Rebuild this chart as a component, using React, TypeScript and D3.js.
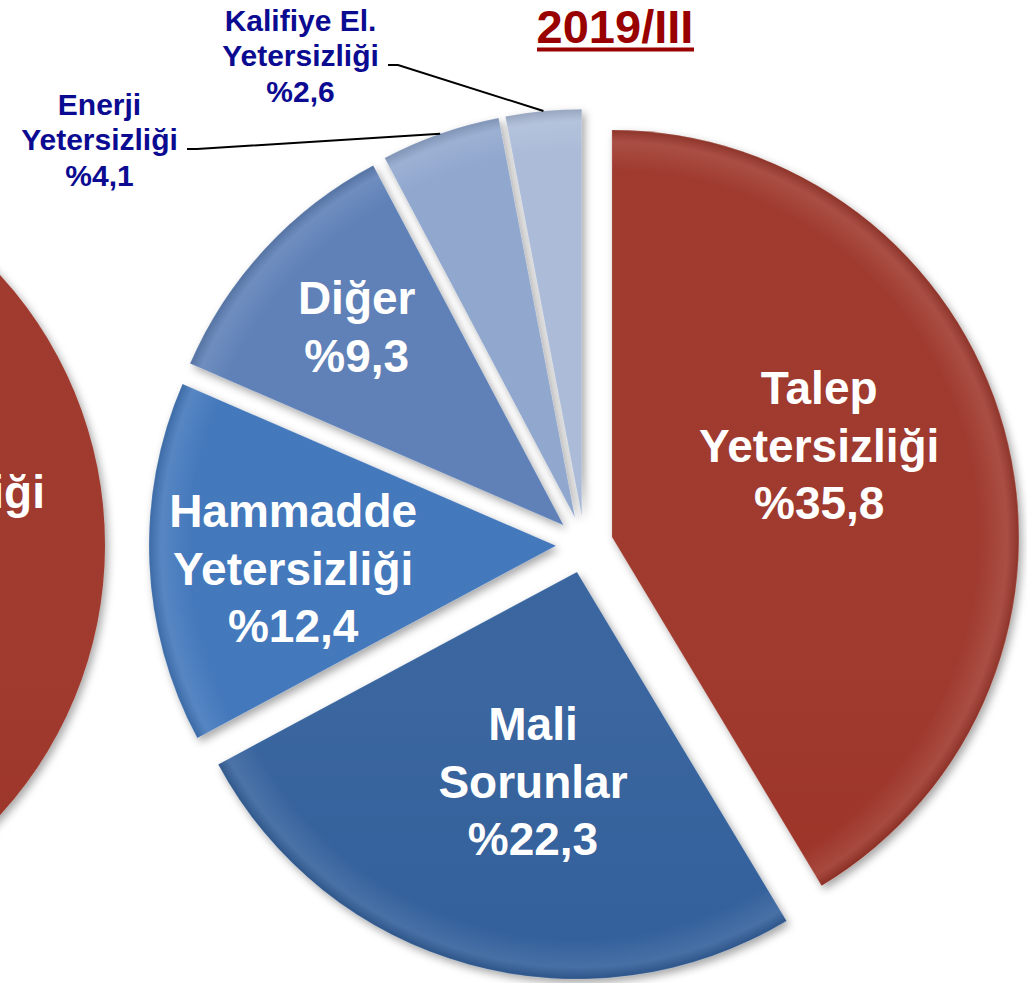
import React from "react";
import * as d3 from "d3";

// 2019/III – kapasite kullanımını kısıtlayan faktörler
const categories = [
  "Talep Yetersizliği",
  "Mali Sorunlar",
  "Hammadde Yetersizliği",
  "Diğer",
  "Enerji Yetersizliği",
  "Kalifiye El. Yetersizliği",
];
const labelLines = [
  ["Talep", "Yetersizliği"],
  ["Mali", "Sorunlar"],
  ["Hammadde", "Yetersizliği"],
  ["Diğer"],
  ["Enerji", "Yetersizliği"],
  ["Kalifiye El.", "Yetersizliği"],
];
const shares = [35.8, 22.3, 12.4, 9.3, 4.1, 2.6];
const colors = ["#9a2f22", "#2e5c99", "#3870b8", "#5479b3", "#8aa2cb", "#a7b8d6"];
const title = "2019/III";

// previous period pie, only its red slice shows at the left edge
const prevLabel = "Yetersizliği";

const W = 1027;
const H = 983;
const FONT = "'Liberation Sans', Arial, sans-serif";

const fmt = (v: number) => "%" + v.toFixed(1).replace(".", ",");

export default function App() {
  const cx = 584.5;
  const cy = 544.6;
  const R = 407;
  const explode = 28.5;

  const pie = d3
    .pie<number>()
    .sort(null)
    .value((d) => d)
    .startAngle(0)
    .endAngle(2 * Math.PI);
  const arcs = pie(shares);
  const arc = d3.arc<d3.PieArcDatum<number>>().innerRadius(0).outerRadius(R);

  // label placement inside the slices (angle shift in deg, radius)
  const inner: Record<number, [number, number]> = {
    0: [-8, 226],
    1: [-3.6, 215],
    2: [-2.8, 264],
    3: [0.9, 286],
  };
  // outside labels: point where the leader line starts
  const outer: Record<number, [number, number]> = {
    4: [187, 149],
    5: [388, 65],
  };

  const fs = 46;
  const lh = 57.5;

  const prevArc = d3
    .arc<any>()
    .innerRadius(0)
    .outerRadius(400)
    .startAngle(0)
    .endAngle(Math.PI);

  return (
    <div style={{ position: "absolute", left: 0, top: 0 }}>
      <svg width={W} height={H} viewBox={`0 0 ${W} ${H}`} style={{ display: "block", background: "#fff" }}>
        <defs>
          <filter id="shadow" x="-20%" y="-20%" width="140%" height="140%">
            <feDropShadow dx="3" dy="4" stdDeviation="4" floodColor="#000" floodOpacity="0.35" />
          </filter>
          <linearGradient id="shade" gradientUnits="userSpaceOnUse" x1="0" y1={cy - R} x2="0" y2={cy + R}>
            <stop offset="0" stopColor="#fff" stopOpacity="0.06" />
            <stop offset="0.5" stopColor="#fff" stopOpacity="0" />
            <stop offset="1" stopColor="#000" stopOpacity="0.14" />
          </linearGradient>
          <radialGradient id="bevel" gradientUnits="userSpaceOnUse" cx="0" cy="0" r={R}>
            <stop offset="0.9" stopColor="#fff" stopOpacity="0" />
            <stop offset="0.97" stopColor="#fff" stopOpacity="0.1" />
            <stop offset="1" stopColor="#000" stopOpacity="0.12" />
          </radialGradient>
        </defs>

        {/* left pie fragment */}
        <g transform={`translate(-295,545)`}>
          <path d={prevArc({}) || ""} fill={colors[0]} filter="url(#shadow)" />
          <path d={prevArc({}) || ""} fill="url(#shade)" />
          <text
            x={340}
            y={-37}
            fontFamily={FONT}
            fontWeight="bold"
            fontSize={fs}
            fill="#fff"
            textAnchor="end"
          >
            {prevLabel}
          </text>
        </g>

        <g transform={`translate(${cx},${cy})`}>
          {arcs.map((a, i) => {
            const mid = (a.startAngle + a.endAngle) / 2;
            const ox = explode * Math.sin(mid);
            const oy = -explode * Math.cos(mid);
            return (
              <g key={categories[i]} transform={`translate(${ox},${oy})`}>
                <path d={arc(a) || ""} fill={colors[i]} filter="url(#shadow)" />
                <path d={arc(a) || ""} fill="url(#shade)" />
                <path d={arc(a) || ""} fill="url(#bevel)" />
                <path d={arc(a) || ""} fill="none" stroke="#fff" strokeOpacity="0.15" strokeWidth="1" />
              </g>
            );
          })}

          {arcs.map((a, i) => {
            const mid = (a.startAngle + a.endAngle) / 2;
            const ox = explode * Math.sin(mid);
            const oy = -explode * Math.cos(mid);
            if (inner[i]) {
              const [dA, r] = inner[i];
              const ang = mid + (dA * Math.PI) / 180;
              const lx = ox + r * Math.sin(ang);
              const ly = oy - r * Math.cos(ang);
              const lines = [...labelLines[i], fmt(shares[i])];
              const n = lines.length;
              return (
                <text
                  key={"l" + i}
                  fontFamily={FONT}
                  fontWeight="bold"
                  fontSize={fs}
                  fill="#fff"
                  textAnchor="middle"
                >
                  {lines.map((l, j) => (
                    <tspan key={j} x={lx} y={ly + 15 + (j - (n - 1) / 2) * lh}>
                      {l}
                    </tspan>
                  ))}
                </text>
              );
            }
            const [sx, sy] = outer[i];
            const ex = ox + R * Math.sin(mid);
            const ey = oy - R * Math.cos(mid);
            const lsx = sx - cx;
            const lsy = sy - cy;
            const lines = [...labelLines[i], fmt(shares[i])];
            const ofs = 30;
            const olh = 35.5;
            // label block centred so that its middle line ends at the leader start
            const tw = 165;
            const tx = lsx - 5 - tw / 2;
            return (
              <g key={"l" + i}>
                <path
                  d={`M${lsx},${lsy}L${lsx + 10},${lsy}L${ex},${ey}`}
                  fill="none"
                  stroke="#000"
                  strokeWidth="2"
                />
                <text fontFamily={FONT} fontWeight="bold" fontSize={ofs} fill="#0b0b92" textAnchor="middle">
                  {lines.map((l, j) => (
                    <tspan key={j} x={tx} y={lsy + 1 + (j - 1) * olh}>
                      {l}
                    </tspan>
                  ))}
                </text>
              </g>
            );
          })}
        </g>

        <text
          x={615}
          y={43}
          fontFamily={FONT}
          fontWeight="bold"
          fontSize={47}
          fill="#990000"
          textAnchor="middle"
        >
          {title}
        </text>
        <line x1={537} x2={694} y1={49.5} y2={49.5} stroke="#990000" strokeWidth={4} />
      </svg>
    </div>
  );
}
